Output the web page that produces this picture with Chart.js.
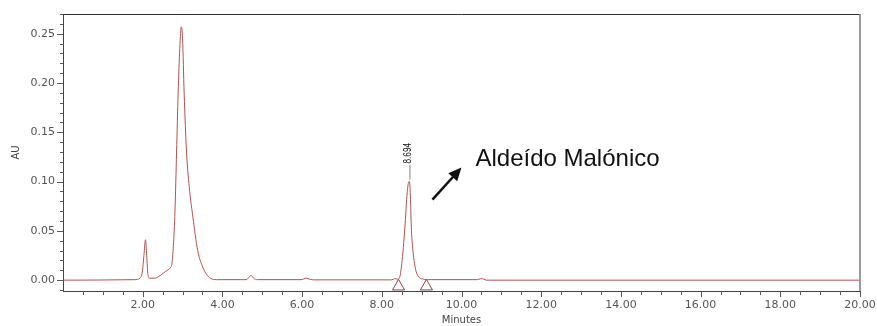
<!DOCTYPE html>
<html>
<head>
<meta charset="utf-8">
<script src="https://cdn.jsdelivr.net/npm/chart.js@4.4.1/dist/chart.umd.min.js"></script>
<style>
html, body { margin: 0; padding: 0; background: #fff; }
canvas { display: block; }
</style>
</head>
<body>
<canvas id="grafico" width="877" height="326"></canvas>
<script>
const minutos = [0, 1.80, 1.93, 1.99, 2.03, 2.07, 2.10, 2.13, 2.18, 2.30, 2.45, 2.58, 2.68, 2.73, 2.77, 2.81, 2.85, 2.89, 2.93, 2.97, 3.00, 3.04, 3.10, 3.18, 3.26, 3.38, 3.51, 3.60, 3.70, 3.85,
  4.60, 4.67, 4.72, 4.78, 4.88, 6.00, 6.08, 6.15, 6.28, 8.25, 8.32, 8.40, 8.45, 8.51, 8.55, 8.58, 8.63, 8.67, 8.694, 8.72, 8.74, 8.77, 8.81, 8.86, 8.93, 9.00, 9.15,
  10.40, 10.48, 10.56, 10.62, 20];
const absorbancia = [0, 0.0005, 0.002, 0.008, 0.025, 0.041, 0.025, 0.006, 0.002, 0.002, 0.005, 0.009, 0.012, 0.016, 0.035, 0.07, 0.13, 0.19, 0.235, 0.257, 0.245, 0.19, 0.13, 0.09, 0.064, 0.030, 0.013, 0.006, 0.002, 0.0005,
  0.0005, 0.003, 0.005, 0.002, 0.0005, 0.0005, 0.002, 0.0015, 0.0003, 0.0003, 0.0015, 0.001, 0.003, 0.02, 0.038, 0.054, 0.085, 0.099, 0.100, 0.082, 0.054, 0.035, 0.02, 0.009, 0.003, 0.0015, 0.0005,
  0.0005, 0.0015, 0.001, 0, 0];

const marcasIntegracion = [8.42, 9.12]; // triangulos de inicio/fin del pico
const picoTiempo = 8.694;
const picoEtiqueta = '8.694';
const nombreCompuesto = 'Aldeído Malónico';

const ticksX = [2, 4, 6, 8, 10, 12, 14, 16, 18, 20];
const etiquetasX = ['2.00', '4.00', '6.00', '8.00', '10.00', '12.00', '14.00', '16.00', '18.00', '20.00'];
const ticksY = [0, 0.05, 0.10, 0.15, 0.20, 0.25];
const etiquetasY = ['0.00', '0.05', '0.10', '0.15', '0.20', '0.25'];

const colorLinea = '#b4504e';
const colorEje = '#555';

// plugin para marcas menores, bordes y anotaciones
const extras = {
  id: 'extras',
  afterDraw(chart) {
    const ctx = chart.ctx;
    const a = chart.chartArea;
    const sx = chart.scales.x;
    const sy = chart.scales.y;
    ctx.save();

    // borde superior y derecho
    ctx.strokeStyle = '#333';
    ctx.lineWidth = 1;
    ctx.beginPath();
    ctx.moveTo(a.left, a.top + 0.5);
    ctx.lineTo(a.right, a.top + 0.5);
    ctx.stroke();
    ctx.strokeStyle = '#999';
    ctx.lineWidth = 2;
    ctx.beginPath();
    ctx.moveTo(a.right, a.top);
    ctx.lineTo(a.right, a.bottom);
    ctx.stroke();

    // marcas del eje x cada 0.5 min
    ctx.strokeStyle = colorEje;
    ctx.lineWidth = 1;
    for (let k = 1; k <= 40; k++) {
      const v = k / 2;
      const px = Math.round(sx.getPixelForValue(v)) + 0.5;
      const largo = (k % 4 === 0) ? 6 : 4;
      ctx.beginPath();
      ctx.moveTo(px, a.bottom);
      ctx.lineTo(px, a.bottom + largo);
      ctx.stroke();
    }
    // marcas del eje y cada 0.01
    for (let k = -1; k <= 27; k++) {
      const py = Math.round(sy.getPixelForValue(k / 100)) + 0.5;
      const largo = (k % 5 === 0) ? 6 : 3;
      ctx.beginPath();
      ctx.moveTo(a.left - largo, py);
      ctx.lineTo(a.left, py);
      ctx.stroke();
    }

    // etiqueta del pico (texto vertical y estrecho)
    const iPico = minutos.indexOf(picoTiempo);
    const xp = sx.getPixelForValue(picoTiempo);
    const yp = sy.getPixelForValue(absorbancia[iPico]);
    ctx.strokeStyle = '#888';
    ctx.beginPath();
    ctx.moveTo(xp + 0.5, yp - 2);
    ctx.lineTo(xp + 0.5, yp - 17);
    ctx.stroke();
    ctx.save();
    ctx.translate(xp - 1, yp - 18);
    ctx.rotate(-Math.PI / 2);
    ctx.scale(0.75, 1);
    ctx.fillStyle = '#111';
    ctx.font = '11px "Liberation Sans", Arial, sans-serif';
    ctx.textAlign = 'left';
    ctx.textBaseline = 'middle';
    ctx.fillText(picoEtiqueta, 0, 0);
    ctx.restore();

    // flecha y nombre
    const x0 = xp + 23, y0 = yp + 18;
    const x1 = xp + 52, y1 = yp - 14;
    const ang = Math.atan2(y1 - y0, x1 - x0);
    ctx.strokeStyle = '#111';
    ctx.fillStyle = '#111';
    ctx.lineWidth = 2.5;
    ctx.beginPath();
    ctx.moveTo(x0, y0);
    ctx.lineTo(x1 - 8 * Math.cos(ang), y1 - 8 * Math.sin(ang));
    ctx.stroke();
    ctx.beginPath();
    ctx.moveTo(x1, y1);
    ctx.lineTo(x1 - 13 * Math.cos(ang) + 6 * Math.sin(ang), y1 - 13 * Math.sin(ang) - 6 * Math.cos(ang));
    ctx.lineTo(x1 - 13 * Math.cos(ang) - 6 * Math.sin(ang), y1 - 13 * Math.sin(ang) + 6 * Math.cos(ang));
    ctx.closePath();
    ctx.fill();

    ctx.font = '24px "Liberation Sans", Arial, sans-serif';
    ctx.textAlign = 'left';
    ctx.textBaseline = 'alphabetic';
    ctx.fillText(nombreCompuesto, xp + 66, yp - 16);

    ctx.restore();
  }
};

const datosLinea = minutos.map((t, i) => ({ x: t, y: absorbancia[i] }));
const datosMarcas = marcasIntegracion.map(t => ({ x: t, y: -0.0064 }));

new Chart(document.getElementById('grafico'), {
  type: 'line',
  data: {
    datasets: [{
      data: datosLinea,
      borderColor: colorLinea,
      borderWidth: 1,
      pointRadius: 0,
      cubicInterpolationMode: 'monotone',
      fill: false
    }, {
      type: 'scatter',
      data: datosMarcas,
      pointStyle: 'triangle',
      pointRadius: 7,
      borderColor: '#7a4a48',
      backgroundColor: 'rgba(255,255,255,0)',
      borderWidth: 1
    }]
  },
  options: {
    responsive: false,
    animation: false,
    layout: { padding: { top: 14, right: 17, left: 0, bottom: 0 } },
    plugins: { legend: { display: false }, tooltip: { enabled: false } },
    scales: {
      x: {
        type: 'linear',
        min: 0,
        max: 20,
        afterBuildTicks: s => { s.ticks = ticksX.map(v => ({ value: v })); },
        afterFit: s => { s.height = 35; s.paddingLeft = 0; s.paddingRight = 0; },
        ticks: {
          callback: (v, i) => etiquetasX[i],
          color: '#555',
          font: { family: 'DejaVu Sans', size: 11 },
          maxRotation: 0,
          padding: 8
        },
        grid: { drawOnChartArea: false, drawTicks: false },
        border: { color: '#444', width: 1 },
        title: {
          display: true,
          text: 'Minutes',
          color: '#444',
          font: { family: 'DejaVu Sans', size: 10 },
          padding: { top: 0, bottom: 0 }
        }
      },
      y: {
        type: 'linear',
        min: -0.011,
        max: 0.27,
        afterBuildTicks: s => { s.ticks = ticksY.map(v => ({ value: v })); },
        afterFit: s => { s.width = 63; s.paddingTop = 0; s.paddingBottom = 0; },
        ticks: {
          callback: (v, i) => etiquetasY[i],
          color: '#555',
          font: { family: 'DejaVu Sans', size: 11 },
          padding: 8
        },
        grid: { drawOnChartArea: false, drawTicks: false },
        border: { color: '#444', width: 1 },
        title: {
          display: true,
          text: 'AU',
          color: '#444',
          font: { family: 'DejaVu Sans', size: 10 },
          padding: { top: 10, bottom: 0 }
        }
      }
    }
  },
  plugins: [extras]
});
</script>
</body>
</html>
